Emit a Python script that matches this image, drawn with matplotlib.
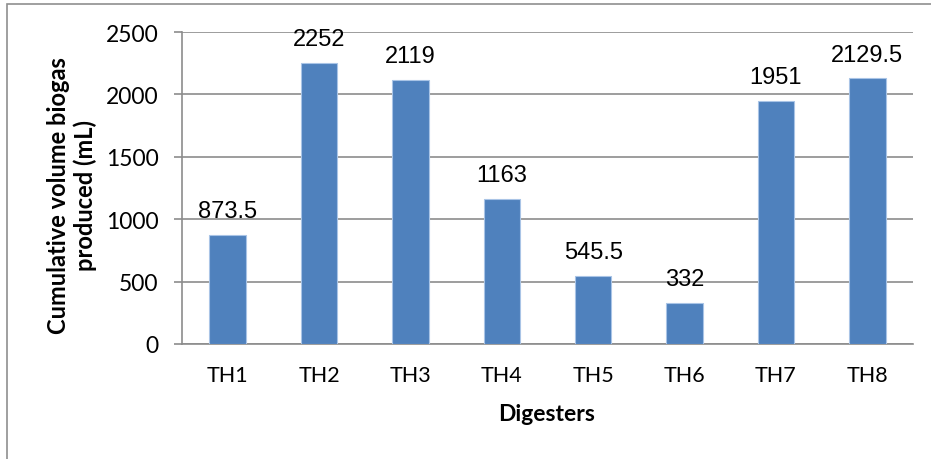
import matplotlib
matplotlib.use("Agg")
import matplotlib.pyplot as plt
from matplotlib.patches import Rectangle

categories = ["TH1", "TH2", "TH3", "TH4", "TH5", "TH6", "TH7", "TH8"]
values = [873.5, 2252, 2119, 1163, 545.5, 332, 1951, 2129.5]
value_labels = ["873.5", "2252", "2119", "1163", "545.5", "332", "1951", "2129.5"]
yticks = [0, 500, 1000, 1500, 2000, 2500]

W, H = 931, 460
fig = plt.figure(figsize=(W / 100, H / 100), dpi=100)
fig.patch.set_facecolor("white")

# outer chart border
fig.patches.append(Rectangle((7 / W, -0.5), 2.0, 1 - 5 / H + 0.5, transform=fig.transFigure,
                             fill=False, edgecolor="#8f8f8f", linewidth=1.2, zorder=0))

ax = fig.add_axes([182 / W, 1 - 345 / H, (913 - 182) / W, (345 - 33) / H])
x = list(range(len(categories)))
ax.bar(x, values, width=0.4, color="#4F81BD", edgecolor="#a9c4e6", linewidth=0.8, zorder=3)
ax.set_xlim(-0.5, len(categories) - 0.5)
ax.set_ylim(0, 2500)
ax.set_yticks(yticks)
ax.set_xticks(x)
ax.set_xticklabels(categories)

tick_font = "Lato"
for lab in ax.get_yticklabels():
    lab.set_fontfamily(tick_font)
    lab.set_fontsize(16.5)
    lab.set_color("black")
for lab in ax.get_xticklabels():
    lab.set_fontfamily(tick_font)
    lab.set_fontsize(15.5)
    lab.set_color("black")

ax.grid(axis="y", color="#8c8c8c", linewidth=1.2, zorder=0)
ax.set_axisbelow(True)
for s in ["top", "right"]:
    ax.spines[s].set_visible(False)
ax.spines["left"].set_color("#8c8c8c")
ax.spines["left"].set_linewidth(1.2)
ax.spines["bottom"].set_color("#8c8c8c")
ax.spines["bottom"].set_linewidth(1.2)
ax.tick_params(axis="y", length=6, color="#8c8c8c", width=1.2, pad=11)
ax.tick_params(axis="x", length=0, pad=15)

for xi, v, lab in zip(x, values, value_labels):
    ax.annotate(lab, (xi, v), xytext=(0, 9), textcoords="offset points",
                ha="center", va="bottom", fontsize=17, family="Liberation Sans", color="black")

fig.text(72 / W, 1 - 196 / H, "Cumulative volume biogas\nproduced (mL)", rotation=90,
         ha="center", va="center", fontsize=17, fontweight="bold", family=tick_font,
         linespacing=1.2, multialignment="center")
fig.text(547 / W, 1 - 415 / H, "Digesters", ha="center", va="center",
         fontsize=16.5, fontweight="bold", family=tick_font)

fig.savefig("out.png", dpi=100, facecolor="white")
